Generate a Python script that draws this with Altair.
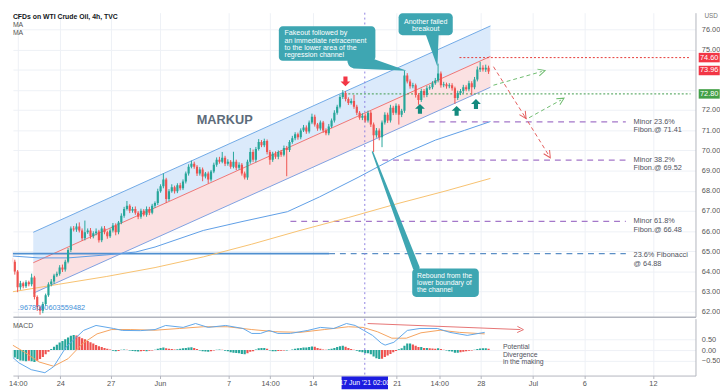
import altair as alt
import pandas as pd

FONT = "Liberation Sans"
TEAL = "#3ea6b2"
UP = "#26a69a"
DOWN = "#ef5350"
GRID = "#eef1f6"
AXC = "#b2b5be"

# ---------------- data ----------------
bar_day0 = 0.115          # first 4h bar (trading-day units)
bars_per_day = 6
first_open = 64.67
closes = [
    64.48, 63.99, 63.21, 63.41, 63.26, 63.46, 63.36, 63.70, 62.73, 62.24,
    62.05, 62.39, 62.82, 63.36, 63.50, 63.80, 63.89, 64.19, 64.09, 64.48,
    65.06, 66.13, 66.08, 66.23, 66.03, 65.64, 65.94, 66.03, 65.74, 65.89,
    65.98, 65.55, 66.13, 65.94, 65.74, 66.03, 66.28, 65.94, 66.42, 66.76,
    67.10, 67.25, 67.01, 67.10, 66.91, 66.71, 67.01, 66.81, 67.10, 66.91,
    67.25, 67.39, 67.98, 68.22, 68.56, 67.59, 67.98, 68.17, 67.98, 68.27,
    68.12, 68.46, 68.85, 69.19, 69.34, 69.19, 68.85, 69.05, 68.71, 68.85,
    68.56, 68.95, 69.29, 69.53, 69.44, 69.63, 69.34, 69.44, 69.19, 69.44,
    69.14, 69.29, 68.85, 68.66, 69.44, 69.92, 69.53, 70.07, 70.41, 70.26,
    70.46, 69.92, 69.53, 69.83, 69.68, 69.92, 69.78, 70.12, 70.02, 70.41,
    70.60, 70.80, 70.65, 70.99, 71.14, 70.94, 71.38, 71.67, 71.28, 71.09,
    71.38, 70.99, 70.85, 71.19, 71.48, 71.87, 72.16, 72.65, 72.84, 72.55,
    72.35, 72.45, 72.16, 71.87, 71.62, 71.72, 71.48, 71.87, 71.28, 70.75,
    70.99, 70.65, 71.38, 71.77, 71.48, 72.11, 71.87, 72.21, 71.77, 71.96,
    73.71, 73.42, 73.18, 73.23, 72.74, 72.50, 72.94, 72.74, 73.08, 73.13,
    73.33, 73.47, 73.81, 73.23, 73.28, 73.18, 73.23, 73.08, 72.60, 72.84,
    72.94, 73.13, 73.03, 73.33, 73.13, 73.52, 74.01, 74.10, 74.01, 74.10,
    73.91,
]
wick_hi = [
    0.39, 0.10, 0.08, 0.12, 0.08, 0.10, 0.08, 0.19, 0.08, 0.08,
    0.06, 0.10, 0.08, 0.10, 0.12, 0.08, 0.10, 0.12, 0.15, 0.10,
    0.10, 0.10, 0.12, 0.15, 0.20, 0.10, 0.58, 0.10, 0.12, 0.10,
    0.15, 0.08, 0.10, 0.12, 0.08, 0.10, 0.12, 0.10, 0.08, 0.12,
    0.10, 0.24, 0.08, 0.10, 0.12, 0.08, 0.10, 0.08, 0.12, 0.10,
    0.10, 0.08, 0.12, 0.10, 0.30, 0.08, 0.10, 0.15, 0.08, 0.10,
    0.12, 0.10, 0.10, 0.12, 0.15, 0.10, 0.08, 0.12, 0.10, 0.08,
    0.10, 0.08, 0.10, 0.12, 0.15, 0.29, 0.10, 0.12, 0.08, 0.49,
    0.10, 0.12, 0.08, 0.10, 0.10, 0.20, 0.12, 0.10, 0.15, 0.10,
    0.12, 0.08, 0.10, 0.10, 0.12, 0.08, 0.10, 0.12, 0.10, 0.10,
    0.12, 0.10, 0.08, 0.10, 0.12, 0.10, 0.10, 0.15, 0.10, 0.08,
    0.10, 0.08, 0.10, 0.12, 0.10, 0.12, 0.10, 0.12, 0.15, 0.10,
    0.08, 0.12, 0.30, 0.10, 0.08, 0.12, 0.10, 0.10, 0.08, 0.10,
    0.12, 0.10, 0.10, 0.12, 0.10, 0.15, 0.10, 0.12, 0.08, 0.10,
    0.24, 0.12, 0.10, 0.12, 0.08, 0.10, 0.12, 0.10, 0.12, 0.10,
    0.10, 0.12, 0.49, 0.10, 0.12, 0.08, 0.10, 0.10, 0.08, 0.12,
    0.10, 0.12, 0.10, 0.12, 0.10, 0.12, 0.15, 0.29, 0.12, 0.15,
    0.10,
]
wick_lo = [
    0.10, 0.15, 0.24, 0.12, 0.10, 0.08, 0.10, 0.10, 0.12, 0.20,
    0.20, 0.12, 0.10, 0.08, 0.10, 0.12, 0.08, 0.10, 0.12, 0.10,
    0.08, 0.10, 0.10, 0.12, 0.10, 0.12, 0.10, 0.08, 0.12, 0.10,
    0.10, 0.12, 0.10, 0.10, 0.12, 0.08, 0.10, 0.15, 0.10, 0.08,
    0.10, 0.08, 0.12, 0.10, 0.10, 0.12, 0.10, 0.08, 0.10, 0.12,
    0.08, 0.10, 0.10, 0.08, 0.10, 0.20, 0.10, 0.08, 0.12, 0.10,
    0.10, 0.08, 0.10, 0.10, 0.08, 0.10, 0.12, 0.10, 0.24, 0.10,
    0.20, 0.10, 0.08, 0.10, 0.10, 0.08, 0.12, 0.10, 0.10, 0.08,
    0.12, 0.10, 0.10, 0.10, 0.12, 0.10, 0.10, 0.12, 0.08, 0.10,
    0.10, 0.12, 0.24, 0.10, 0.10, 0.12, 0.10, 0.08, 1.30, 0.10,
    0.08, 0.10, 0.12, 0.10, 0.08, 0.12, 0.10, 0.08, 0.10, 0.12,
    0.10, 0.12, 0.10, 0.10, 0.08, 0.10, 0.10, 0.08, 0.10, 0.12,
    0.10, 0.08, 0.10, 0.12, 0.10, 0.12, 0.10, 0.10, 0.12, 0.83,
    0.12, 0.15, 0.49, 0.10, 0.12, 0.10, 0.12, 0.10, 0.49, 0.12,
    0.10, 0.10, 0.12, 0.10, 0.12, 0.24, 0.10, 0.12, 0.10, 0.08,
    0.10, 0.08, 0.10, 0.12, 0.10, 0.12, 0.10, 0.12, 0.29, 0.10,
    0.10, 0.12, 0.10, 0.10, 0.39, 0.10, 0.10, 0.12, 0.10, 0.12,
    0.12,
]
macd_hist = [
    -0.30, -0.35, -0.42, -0.48, -0.50, -0.52, -0.50, -0.52, -0.55, -0.50,
    -0.42, -0.32, -0.20, -0.08, 0.05, 0.15, 0.25, 0.35, 0.42, 0.50,
    0.58, 0.66, 0.70, 0.68, 0.62, 0.55, 0.50, 0.42, 0.36, 0.30,
    0.24, 0.18, 0.14, 0.10, 0.06, 0.03, -0.03, -0.05, -0.04, 0.02,
    0.03, 0.02, -0.02, -0.04, -0.06, -0.07, -0.05, -0.04, -0.06, -0.03,
    -0.02, 0.02, 0.06, 0.10, 0.12, 0.08, 0.06, 0.05, 0.03, 0.04,
    0.06, 0.08, 0.10, 0.12, 0.13, 0.10, 0.05, -0.02, -0.06, -0.07,
    -0.08, -0.05, -0.02, 0.02, 0.03, 0.02, -0.03, -0.06, -0.10, -0.12,
    -0.14, -0.15, -0.18, -0.20, -0.15, -0.08, -0.05, 0.03, 0.08, 0.10,
    0.10, 0.06, -0.02, -0.05, -0.06, -0.04, -0.03, -0.02, -0.02, 0.00,
    0.03, 0.06, 0.08, 0.10, 0.12, 0.12, 0.14, 0.16, 0.15, 0.10,
    0.06, 0.03, 0.02, 0.04, 0.06, 0.10, 0.14, 0.18, 0.20, 0.15,
    0.10, 0.05, 0.02, -0.03, -0.08, -0.10, -0.15, -0.15, -0.20, -0.30,
    -0.38, -0.42, -0.40, -0.32, -0.25, -0.18, -0.10, -0.04, 0.04, 0.08,
    0.20, 0.30, 0.30, 0.26, 0.20, 0.14, 0.14, 0.10, 0.10, 0.08,
    0.07, 0.06, 0.08, 0.05, 0.02, -0.02, -0.05, -0.07, -0.12, -0.12,
    -0.10, -0.08, -0.06, -0.03, -0.02, 0.02, 0.05, 0.07, 0.08, 0.08,
    0.06,
]

# moving averages (read at points)
ma_blue_day = [0, 1.72, 3.45, 5.75, 7.47, 8.62, 11.49, 13.79, 16.49, 18.39, 20.69, 22.99, 25.29, 27.01, 28.56]
ma_blue = [64.77, 64.67, 64.67, 64.82, 64.96, 65.21, 66.03, 66.47, 66.96, 67.69, 68.66, 69.68, 70.51, 70.99, 71.43]
ma_orange_day = [0, 2.87, 5.75, 8.62, 11.49, 14.37, 17.24, 20.11, 22.99, 25.86, 28.56]
ma_orange = [62.97, 63.36, 63.75, 64.19, 64.72, 65.35, 66.03, 66.67, 67.35, 67.98, 68.61]

# regression channel
chan_day = [1.38, 28.56]
chan_upper = [65.94, 76.17]
chan_mid = [64.43, 74.66]
chan_lower = [62.92, 73.13]

# MACD / signal lines
macd_day = [0, 0.52, 1.26, 2.07, 2.59, 3.33, 4.37, 5.11, 6.15, 6.67, 7.76, 8.62, 9.25, 10.29,
            11.03, 11.78, 12.82, 13.85, 14.37, 14.89, 15.40, 15.92, 16.67, 17.70, 18.45, 19.25,
            20.0, 20.52, 21.03, 21.55, 22.07, 22.30, 22.82, 23.62, 24.37, 25.40, 26.15, 27.18, 28.22]
macd_val = [-0.23, -0.59, -0.91, -1.05, -0.77, 0.14, 0.91, 1.14, 1.0, 0.91, 0.9, 0.95, 1.14, 1.05,
            1.23, 1.05, 1.14, 1.0, 0.77, 0.77, 0.91, 0.77, 0.77, 0.91, 1.05, 1.0,
            1.23, 1.14, 0.91, 0.68, 0.32, 0.23, 0.36, 0.91, 1.0, 1.0, 0.82, 0.68, 0.82]
sig_day = [0, 0.86, 1.72, 2.59, 3.45, 4.31, 5.17, 6.03, 7.18, 8.62, 10.06, 11.49, 12.93, 14.37,
           15.80, 17.24, 18.68, 20.11, 20.98, 21.84, 22.70, 23.56, 24.43, 25.57, 26.72, 28.22]
sig_val = [0.3, -0.1, -0.55, -0.75, -0.4, 0.3, 0.75, 0.95, 0.95, 0.92, 1.0, 1.08, 1.08, 0.95,
           0.85, 0.82, 0.95, 1.08, 1.05, 0.85, 0.55, 0.55, 0.8, 0.92, 0.82, 0.75]

price_ticks = [62, 63, 64, 65, 66, 67, 68, 69, 70, 71, 72, 73, 74, 75, 76]
hidden_price_labels = [73, 74]   # covered by the price tags
macd_ticks = [-0.5, 0, 0.5]
tick_days = [0.46, 2.99, 5.98, 8.91, 12.99, 15.46, 17.99, 22.99, 25.52, 27.99, 31.09, 34.14, 38.22]
tick_text = ["14:00", "24", "27", "Jun", "7", "14:00", "14", "21", "14:00", "28", "Jul", "6", "12"]
cursor_day = 21.09
cursor_text = "17 Jun '21   02:00"

fib_levels = [71.41, 69.52, 66.48, 64.88]
fib_start = [24.89, 22.13, 16.67, 18.97]
fib_end = 36.61
fib_labels = ["Minor 23.6%\nFibon.@ 71.41", "Minor 38.2%\nFibon.@ 69.52",
              "Minor 61.8%\nFibon.@ 66.48", "23.6% Fibonacci\n@ 64.88"]

# ---------------- frames ----------------
n = len(closes)
opens = [first_open] + closes[:-1]
cdf = pd.DataFrame({"d": [bar_day0 + i / bars_per_day for i in range(n)], "o": opens, "c": closes})
cdf["h"] = [max(o, c) + w for o, c, w in zip(opens, closes, wick_hi)]
cdf["l"] = [min(o, c) - w for o, c, w in zip(opens, closes, wick_lo)]
cdf["dir"] = ["up" if c >= o else "down" for o, c in zip(opens, closes)]

hdf = pd.DataFrame({"d": cdf["d"], "h": macd_hist, "z": 0.0})
kinds = []
for i, v in enumerate(macd_hist):
    prev = macd_hist[i - 1] if i > 0 else v
    if v >= 0:
        kinds.append("pos_up" if v >= prev else "pos_dn")
    else:
        kinds.append("neg_dn" if v <= prev else "neg_up")
hdf["k"] = kinds

# ---------------- scales / axes ----------------
xs = alt.Scale(domain=[0.46, 40.46], nice=False, zero=False)
ys = alt.Scale(domain=[61.754, 76.826], nice=False, zero=False)
ym = alt.Scale(domain=[-1.1818, 1.4545], nice=False, zero=False)

xaxis_main = alt.Axis(values=tick_days, grid=True, gridColor=GRID, labels=False, ticks=False,
                      domain=True, domainColor=AXC, domainWidth=1.5, title=None)
label_expr = ("[" + ",".join("'%s'" % t for t in tick_text) + "][indexof(["
              + ",".join(str(v) for v in tick_days) + "], datum.value)]")
xaxis_macd = alt.Axis(values=tick_days, grid=True, gridColor=GRID, labelExpr=label_expr,
                      ticks=True, tickSize=3, tickColor=AXC, labelPadding=1, labelFontSize=7.5,
                      labelColor="#555", labelFont=FONT, labelFlush=True, labelOverlap=False,
                      domain=True, domainColor=AXC, title=None)
price_expr = ("indexof([" + ",".join(str(v) for v in hidden_price_labels)
              + "], datum.value) >= 0 ? '' : format(datum.value, '.2f')")
yaxis_main = alt.Axis(orient="right", values=price_ticks, labelExpr=price_expr, grid=True, gridColor=GRID,
                      ticks=False, labelPadding=6, labelFontSize=7.5, labelColor="#555",
                      labelFont=FONT, domainColor=AXC, title=None)
yaxis_macd = alt.Axis(orient="right", values=macd_ticks, format=".2f", grid=True, gridColor=GRID,
                      ticks=False, labelPadding=6, labelFontSize=7.5, labelColor="#555",
                      labelFont=FONT, domainColor=AXC, title=None)


def X(f):
    return alt.X(f, type="quantitative", scale=xs, axis=xaxis_main)


def Y(f):
    return alt.Y(f, type="quantitative", scale=ys, axis=yaxis_main)


def XM(f):
    return alt.X(f, type="quantitative", scale=xs, axis=xaxis_macd)


def YM(f):
    return alt.Y(f, type="quantitative", scale=ym, axis=yaxis_macd)


def df(**kw):
    return pd.DataFrame(kw)


def note(d, p, text, align="left", size=7, lh=7.4, color="white", enc_x=X, enc_y=Y, baseline="top"):
    return alt.Chart(df(d=[d], p=[p], t=[text])).mark_text(
        align=align, baseline=baseline, fontSize=size, font=FONT, color=color, lineBreak="\n", lineHeight=lh
    ).encode(x=enc_x("d"), y=enc_y("p"), text="t:N")


layers = []

# regression channel
ch = df(d=chan_day, up=chan_upper, mid=chan_mid, lo=chan_lower)
layers.append(alt.Chart(ch).mark_area(color="#dbeafb", clip=True).encode(x=X("d"), y=Y("up"), y2=alt.Y2("mid")))
layers.append(alt.Chart(ch).mark_area(color="#fbe1e2", clip=True).encode(x=X("d"), y=Y("mid"), y2=alt.Y2("lo")))
layers.append(alt.Chart(ch).mark_line(color="#6fa8e6", strokeWidth=1, clip=True).encode(x=X("d"), y=Y("up")))
layers.append(alt.Chart(ch).mark_line(color="#ef7373", strokeWidth=1, clip=True).encode(x=X("d"), y=Y("mid")))
layers.append(alt.Chart(ch).mark_line(color="#7d9fe0", strokeWidth=1, clip=True).encode(x=X("d"), y=Y("lo")))

# fib lines
fd = df(p=fib_levels, a=fib_start, b=[fib_end] * 4, t=fib_labels)
layers.append(alt.Chart(df(a=[0.0], b=[fib_start[3]], p=[fib_levels[3]])).mark_rule(
    color="#4f8fd0", strokeWidth=1.6, clip=True).encode(x=X("a"), x2=alt.X2("b"), y=Y("p")))
layers.append(alt.Chart(fd.iloc[:3]).mark_rule(color="#a477c9", strokeWidth=1.3, strokeDash=[6, 5]).encode(
    x=X("a"), x2=alt.X2("b"), y=Y("p")))
layers.append(alt.Chart(fd.iloc[3:]).mark_rule(color="#5b8fc6", strokeWidth=1.2, strokeDash=[6, 5]).encode(
    x=X("a"), x2=alt.X2("b"), y=Y("p")))
layers.append(alt.Chart(df(d=[37.07] * 4, p=[71.41, 69.52, 66.48, 64.80], t=fib_labels)).mark_text(
    align="left", baseline="middle", fontSize=7.5, font=FONT, color="#50535e", lineBreak="\n", lineHeight=8.5
).encode(x=X("d"), y=Y("p"), text="t:N"))

# level lines
layers.append(alt.Chart(df(a=[20.11], b=[40.46], p=[72.80])).mark_rule(
    color="#3d9a4a", strokeWidth=1, strokeDash=[2, 2]).encode(x=X("a"), x2=alt.X2("b"), y=Y("p")))
layers.append(alt.Chart(df(a=[26.72], b=[40.46], p=[74.60])).mark_rule(
    color="#e53935", strokeWidth=1, strokeDash=[2, 2]).encode(x=X("a"), x2=alt.X2("b"), y=Y("p")))

# moving averages
layers.append(alt.Chart(df(d=ma_orange_day, v=ma_orange)).mark_line(color="#f7c16e", strokeWidth=1, clip=True).encode(
    x=X("d"), y=Y("v")))
layers.append(alt.Chart(df(d=ma_blue_day, v=ma_blue)).mark_line(color="#5d9de6", strokeWidth=1, clip=True).encode(
    x=X("d"), y=Y("v")))

# crosshair
layers.append(alt.Chart(df(d=[cursor_day])).mark_rule(color="#8c7fe0", strokeWidth=1, strokeDash=[2, 3]).encode(x=X("d")))

# candles
cscale = alt.Scale(domain=["up", "down"], range=[UP, DOWN])
layers.append(alt.Chart(cdf).mark_rule(strokeWidth=1, clip=True).encode(
    x=X("d"), y=Y("l"), y2=alt.Y2("h"), color=alt.Color("dir:N", scale=cscale, legend=None)))
layers.append(alt.Chart(cdf).mark_bar(size=2.2, clip=True).encode(
    x=X("d"), y=Y("o"), y2=alt.Y2("c"), color=alt.Color("dir:N", scale=cscale, legend=None)))

# markup text
layers.append(alt.Chart(df(d=[12.76], p=[71.50], t=["MARKUP"])).mark_text(
    fontSize=13, fontWeight="bold", font=FONT, color="#5d6b7a").encode(x=X("d"), y=Y("p"), text="t:N"))

# arrows
down_arrow = "M-0.42,-1 L0.42,-1 L0.42,0 L1,0 L0,1 L-1,0 L-0.42,0 Z"
up_arrow = "M-0.42,1 L0.42,1 L0.42,0 L1,0 L0,-1 L-1,0 L-0.42,0 Z"
layers.append(alt.Chart(df(d=[19.94], p=[73.42])).mark_point(
    shape=down_arrow, filled=True, size=100, color="#f23645", opacity=1).encode(x=X("d"), y=Y("p")))
layers.append(alt.Chart(df(d=[24.37, 26.55, 27.70], p=[72.06, 71.96, 72.30])).mark_point(
    shape=up_arrow, filled=True, size=100, color="#138a7e", opacity=1).encode(x=X("d"), y=Y("p")))

# projection arrows
chev = "M-1,-1 L1,0 L-1,1"
proj = [
    ("r1", [28.74, 30.57], [74.15, 71.72], "#e35d5d", 57),
    ("r2", [30.57, 32.01], [71.72, 69.78], "#e35d5d", 58),
    ("g1", [28.74, 31.61], [73.23, 73.91], "#6dbb6d", 344),
    ("g2", [30.86, 32.76], [71.62, 72.50], "#6dbb6d", 329),
]
for name, dd, pp, col, ang in proj:
    layers.append(alt.Chart(df(d=dd, p=pp)).mark_line(color=col, strokeWidth=1, strokeDash=[4, 3]).encode(
        x=X("d"), y=Y("p")))
    layers.append(alt.Chart(df(d=[dd[1]], p=[pp[1]])).mark_point(
        shape=chev, size=50, filled=False, color=col, strokeWidth=1, angle=ang, opacity=1).encode(x=X("d"), y=Y("p")))

# callouts
layers.append(alt.Chart(df(d=[20.52, 23.51], p=[74.44, 73.96], w=[16, 0.5])).mark_trail(color=TEAL).encode(
    x=X("d"), y=Y("p"), size=alt.Size("w:Q", scale=None, legend=None)))
layers.append(alt.Chart(df(d=[25.11, 25.40], p=[75.75, 74.20], w=[13, 0.5])).mark_trail(color=TEAL).encode(
    x=X("d"), y=Y("p"), size=alt.Size("w:Q", scale=None, legend=None)))
layers.append(alt.Chart(df(d=[21.55, 24.14], p=[69.92, 64.20], w=[1.5, 7])).mark_trail(color=TEAL).encode(
    x=X("d"), y=Y("p"), size=alt.Size("w:Q", scale=None, legend=None)))
boxes = df(a=[15.98, 23.10, 23.91], b=[21.72, 26.32, 27.87], y0=[76.15, 76.80, 64.14], y1=[74.44, 75.71, 62.73])
layers.append(alt.Chart(boxes).mark_rect(color=TEAL, cornerRadius=4).encode(
    x=X("a"), x2=alt.X2("b"), y=Y("y0"), y2=alt.Y2("y1")))
layers.append(note(16.32, 76.0, "Fakeout followed by\nan immediate retracement\nto the lower area of the\nregression channel",
                   size=7.2, lh=7.5))
layers.append(note(24.71, 76.55, "Another failed\nbreakout", align="center", size=7.2, lh=7.5))
layers.append(note(24.20, 63.98, "Rebound from the\nlower boundary of\nthe channel", size=7, lh=7.4))

# stray level value label at bottom-left
layers.append(alt.Chart(df(d=[0.46], p=[62.20], t=[".9678060603559482"])).mark_text(
    align="left", baseline="middle", fontSize=7.5, font=FONT, color="#3f8fd8").encode(x=X("d"), y=Y("p"), text="t:N"))

# header
layers.append(alt.Chart(df(t=["CFDs on WTI Crude Oil, 4h, TVC"])).mark_text(
    align="left", baseline="top", fontSize=7, fontWeight="bold", font=FONT, color="#131722").encode(
    x=alt.value(0), y=alt.value(0), text="t:N"))
layers.append(alt.Chart(df(t=["MA"])).mark_text(
    align="left", baseline="top", fontSize=7, font=FONT, color="#555").encode(x=alt.value(0), y=alt.value(8.5), text="t:N"))
layers.append(alt.Chart(df(t=["MA"])).mark_text(
    align="left", baseline="top", fontSize=7, font=FONT, color="#555").encode(x=alt.value(0), y=alt.value(16.5), text="t:N"))

# price tags on axis
tag = "M-1,-0.45 L1,-0.45 L1,0.45 L-1,0.45 Z"
tags = df(p=[74.60, 73.96, 72.80], t=["74.60", "73.96", "72.80"], c=["#f23645", "#f23645", "#43a047"])
layers.append(alt.Chart(tags).mark_point(shape=tag, size=460, filled=True, opacity=1).encode(
    x=alt.value(710), y=Y("p"), color=alt.Color("c:N", scale=None)))
layers.append(alt.Chart(tags).mark_text(fontSize=7.5, font=FONT, color="white").encode(
    x=alt.value(710), y=Y("p"), text="t:N"))
layers.append(alt.Chart(df(t=["USD"])).mark_text(fontSize=6.5, font=FONT, color="#777").encode(
    x=alt.value(712), y=alt.value(3), text="t:N"))

main = alt.layer(*layers).properties(width=696, height=310)

# ---------------- MACD pane ----------------
ml = []
hcol = alt.Scale(domain=["pos_up", "pos_dn", "neg_dn", "neg_up"], range=["#26a69a", "#b2dfdb", "#ff5252", "#ffcdd2"])
ml.append(alt.Chart(hdf).mark_bar(size=2.2, clip=True).encode(
    x=XM("d"), y=YM("h"), y2=alt.Y2("z"), color=alt.Color("k:N", scale=hcol, legend=None)))
ml.append(alt.Chart(df(d=sig_day, v=sig_val)).mark_line(color="#f5a25d", strokeWidth=1, clip=True).encode(
    x=XM("d"), y=YM("v")))
ml.append(alt.Chart(df(d=macd_day, v=macd_val)).mark_line(color="#5fa6ea", strokeWidth=1, clip=True).encode(
    x=XM("d"), y=YM("v")))
ml.append(alt.Chart(df(d=[cursor_day])).mark_rule(color="#8c7fe0", strokeWidth=1, strokeDash=[2, 3]).encode(x=XM("d")))
ml.append(alt.Chart(df(d=[21.26, 30.34], v=[1.23, 0.95])).mark_line(color="#e57373", strokeWidth=1).encode(
    x=XM("d"), y=YM("v")))
ml.append(alt.Chart(df(d=[30.34], v=[0.95])).mark_point(shape=chev, size=40, filled=False, color="#e57373",
                                                         strokeWidth=1, angle=2, opacity=1).encode(x=XM("d"), y=YM("v")))
ml.append(note(29.3, 0.30, "Potential\nDivergence\nin the making", size=7, lh=7.4, color="#50535e",
               enc_x=XM, enc_y=YM))
ml.append(alt.Chart(df(t=["MACD"])).mark_text(
    align="left", baseline="top", fontSize=7, font=FONT, color="#555").encode(x=alt.value(0), y=alt.value(4), text="t:N"))
# cursor time box
ml.append(alt.Chart(df(a=[19.71], b=[22.47])).mark_rect(color="#1c1ce0").encode(
    x=XM("a"), x2=alt.X2("b"), y=alt.value(59), y2=alt.value(72)))
ml.append(alt.Chart(df(d=[cursor_day], t=[cursor_text])).mark_text(
    fontSize=7, font=FONT, color="white").encode(x=XM("d"), y=alt.value(65.5), text="t:N"))

macd = alt.layer(*ml).properties(width=696, height=58)

chart = alt.vconcat(main, macd, spacing=0).properties(
    padding={"left": 0, "top": 0, "right": 0, "bottom": 0}, background="white"
).configure_view(strokeWidth=0)

chart.save("out.html", embed_options={"renderer": "svg", "actions": False})
